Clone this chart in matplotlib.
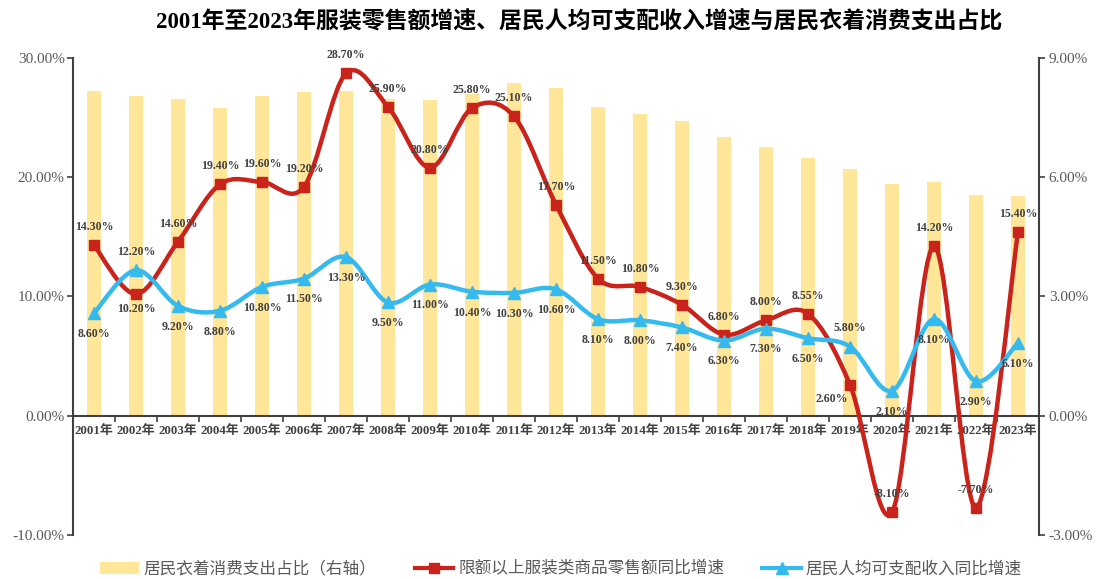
import matplotlib
matplotlib.use('Agg')
import matplotlib.pyplot as plt
from matplotlib.path import Path
from matplotlib.patches import PathPatch, Patch
from matplotlib.lines import Line2D
from matplotlib.ticker import FuncFormatter, FixedLocator
import numpy as np

# data
years = ['2001年', '2002年', '2003年', '2004年', '2005年', '2006年', '2007年', '2008年',
         '2009年', '2010年', '2011年', '2012年', '2013年', '2014年', '2015年', '2016年',
         '2017年', '2018年', '2019年', '2020年', '2021年', '2022年', '2023年']
clothing_share = [8.16, 8.03, 7.96, 7.73, 8.03, 8.15, 8.17, 7.96, 7.95, 8.09, 8.36, 8.24,
                  7.77, 7.58, 7.41, 7.02, 6.76, 6.49, 6.21, 5.83, 5.88, 5.56, 5.52]
retail_growth = [14.3, 10.2, 14.6, 19.4, 19.6, 19.2, 28.7, 25.9, 20.8, 25.8, 25.1, 17.7,
                 11.5, 10.8, 9.3, 6.8, 8.0, 8.55, 2.6, -8.1, 14.2, -7.7, 15.4]
income_growth = [8.6, 12.2, 9.2, 8.8, 10.8, 11.5, 13.3, 9.5, 11.0, 10.4, 10.3, 10.6,
                 8.1, 8.0, 7.4, 6.3, 7.3, 6.5, 5.8, 2.1, 8.1, 2.9, 6.1]
retail_labels = ['14.30%', '10.20%', '14.60%', '19.40%', '19.60%', '19.20%', '28.70%', '25.90%',
                 '20.80%', '25.80%', '25.10%', '17.70%', '11.50%', '10.80%', '9.30%', '6.80%',
                 '8.00%', '8.55%', '2.60%', '-8.10%', '14.20%', '-7.70%', '15.40%']
income_labels = ['8.60%', '12.20%', '9.20%', '8.80%', '10.80%', '11.50%', '13.30%', '9.50%',
                 '11.00%', '10.40%', '10.30%', '10.60%', '8.10%', '8.00%', '7.40%', '6.30%',
                 '7.30%', '6.50%', '5.80%', '2.10%', '8.10%', '2.90%', '6.10%']

RED = '#C9231C'
BLUE = '#35BAEF'
BAR = '#FFE699'
GREY = '#595959'
DARK = '#404040'
SERIF = ['Liberation Serif', 'Noto Sans CJK SC']
CJK = ['Noto Sans CJK SC', 'DejaVu Sans']


def smooth_path(xs, ys):
    # Catmull-Rom style bezier through the points (like Excel's smoothed line)
    pts = np.column_stack([xs, ys]).astype(float)
    n = len(pts)
    verts = [pts[0]]
    codes = [Path.MOVETO]
    for i in range(n - 1):
        p0 = pts[i - 1] if i > 0 else pts[i]
        p1 = pts[i]
        p2 = pts[i + 1]
        p3 = pts[i + 2] if i + 2 < n else pts[i + 1]
        verts += [p1 + (p2 - p0) / 6, p2 - (p3 - p1) / 6, p2]
        codes += [Path.CURVE4] * 3
    return Path(verts, codes)


fig = plt.figure(figsize=(10.96, 5.79), dpi=100)
ax = fig.add_axes([0.0666, 0.076, 0.8814, 0.824])
ax2 = ax.twinx()
ax.set_zorder(ax2.get_zorder() + 1)
ax.patch.set_visible(False)

x = np.arange(len(years))

# bars on the right axis
ax2.bar(x, clothing_share, width=0.32, color=BAR, zorder=1)
ax2.set_ylim(-3, 9)
ax2.yaxis.set_major_locator(FixedLocator([-3, 0, 3, 6, 9]))
ax2.yaxis.set_major_formatter(FuncFormatter(lambda v, p: '%.2f%%' % v))

# lines on the left axis
ax.add_patch(PathPatch(smooth_path(x, retail_growth), facecolor='none', edgecolor=RED,
                       lw=3.2, zorder=3, capstyle='round', joinstyle='round'))
ax.plot(x, retail_growth, linestyle='none', marker='s', ms=7, color=RED, zorder=4)
ax.add_patch(PathPatch(smooth_path(x, income_growth), facecolor='none', edgecolor=BLUE,
                       lw=3.2, zorder=5, capstyle='round', joinstyle='round'))
ax.plot(x, income_growth, linestyle='none', marker='^', ms=8, color=BLUE, zorder=6)

ax.set_xlim(-0.5, len(years) - 0.5)
ax.set_ylim(-10, 30)
ax.yaxis.set_major_locator(FixedLocator([-10, 0, 10, 20, 30]))
ax.yaxis.set_major_formatter(FuncFormatter(lambda v, p: '%.2f%%' % v))

# data labels
for i in range(len(years)):
    r_off = (0, 13)
    b_off = (0, -15)
    if i == 1:
        r_off, b_off = (0, -11), (0, 13)
    if i == 18:
        r_off, b_off = (-13, -10), (0, 13)
    ax.annotate(retail_labels[i], (x[i], retail_growth[i]), xytext=r_off,
                textcoords='offset points', ha='center', va='center', fontsize=8.6,
                fontweight='bold', color=DARK, family=SERIF, zorder=7)
    ax.annotate(income_labels[i], (x[i], income_growth[i]), xytext=b_off,
                textcoords='offset points', ha='center', va='center', fontsize=8.6,
                fontweight='bold', color=DARK, family=SERIF, zorder=7)

# axes styling
for a in (ax, ax2):
    a.spines['top'].set_visible(False)
    a.spines['bottom'].set_visible(False)
    for s in ('left', 'right'):
        a.spines[s].set_color(DARK)
        a.spines[s].set_linewidth(1.5)
ax.spines['right'].set_visible(False)
ax2.spines['left'].set_visible(False)
ax.spines['bottom'].set_visible(True)
ax.spines['bottom'].set_position(('data', 0))
ax.spines['bottom'].set_color(DARK)
ax.spines['bottom'].set_linewidth(1.5)

ax.set_xticks(x)
ax.set_xticklabels(years)
ax.set_xticks(np.arange(-0.5, len(years), 1), minor=True)
ax.tick_params(axis='x', which='major', length=0, pad=7)
ax.tick_params(axis='x', which='minor', length=4, width=1.2, color=DARK, direction='out')
for t in ax.get_xticklabels():
    t.set_family(SERIF)
    t.set_fontweight('bold')
    t.set_fontsize(9.3)
    t.set_color(DARK)

ax.tick_params(axis='y', length=4, width=1.2, color=DARK, direction='out', pad=2)
ax2.tick_params(axis='y', length=4, width=1.2, color=DARK, direction='out', pad=3)
for t in ax.get_yticklabels() + ax2.get_yticklabels():
    t.set_family(SERIF)
    t.set_fontsize(11)
    t.set_color(GREY)

fig.text(0.528, 0.962, '2001年至2023年服装零售额增速、居民人均可支配收入增速与居民衣着消费支出占比',
         ha='center', va='center', fontsize=16.5, fontweight='bold', family=SERIF, color='black')

handles = [Patch(facecolor=BAR, edgecolor='none'),
           Line2D([], [], color=RED, lw=3, marker='s', ms=7),
           Line2D([], [], color=BLUE, lw=3, marker='^', ms=8)]
names = ['居民衣着消费支出占比（右轴）', '限额以上服装类商品零售额同比增速', '居民人均可支配收入同比增速']
leg = fig.legend(handles, names, loc='center', bbox_to_anchor=(0.512, 0.017), ncol=3,
                 frameon=False, handlelength=2.3, handletextpad=0.3, columnspacing=2.3,
                 prop={'family': CJK, 'size': 12})
for t in leg.get_texts():
    t.set_color(GREY)

fig.savefig('out.png', dpi=100)
